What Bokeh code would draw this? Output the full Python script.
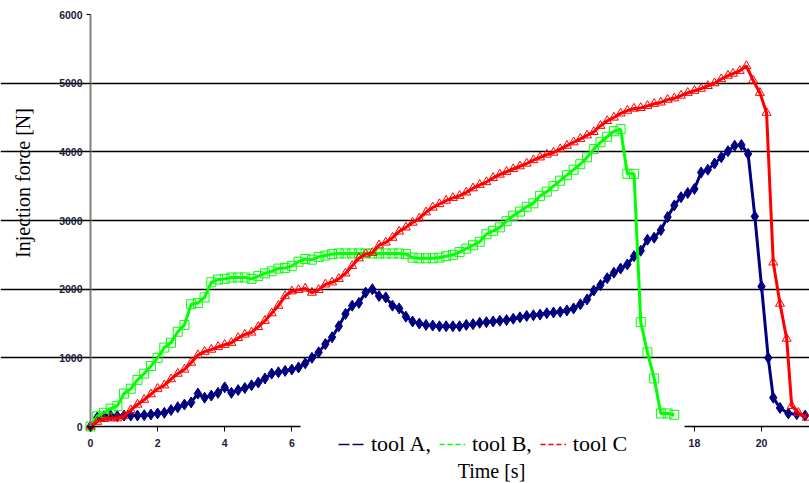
import math
from bokeh.plotting import figure
from bokeh.models import FixedTicker, Legend, LegendItem, ColumnDataSource, Label, BoxAnnotation
from bokeh.embed import file_html
from bokeh.resources import INLINE

# ---- data ----
time_a = [0.0, 0.2, 0.4, 0.6, 0.8, 1.0, 1.2, 1.4, 1.6, 1.8, 2.0, 2.2, 2.4, 2.6, 2.8, 3.0,
          3.2, 3.4, 3.6, 3.8, 4.0, 4.2, 4.4, 4.6, 4.8, 5.0, 5.2, 5.4, 5.6, 5.8, 6.0, 6.2,
          6.4, 6.6, 6.8, 7.0, 7.2, 7.4, 7.6, 7.8, 8.0, 8.2, 8.4, 8.6, 8.8, 9.0, 9.2, 9.4,
          9.6, 9.8, 10.0, 10.2, 10.4, 10.6, 10.8, 11.0, 11.2, 11.4, 11.6, 11.8, 12.0, 12.2,
          12.4, 12.6, 12.8, 13.0, 13.2, 13.4, 13.6, 13.8, 14.0, 14.2, 14.4, 14.6, 14.8, 15.0,
          15.2, 15.4, 15.6, 15.8, 16.0, 16.2, 16.4, 16.6, 16.8, 17.0, 17.2, 17.4, 17.6, 17.8,
          18.0, 18.2, 18.4, 18.6, 18.8, 19.0, 19.2, 19.4, 19.6, 19.8, 20.0, 20.2, 20.35, 20.55,
          20.8, 21.05, 21.3]
force_a = [0, 130, 150, 160, 150, 160, 160, 160, 165, 175, 190, 200, 240, 280, 320, 350,
           480, 420, 450, 490, 570, 490, 530, 560, 600, 640, 700, 770, 790, 810, 830, 860,
           920, 1000, 1080, 1200, 1300, 1460, 1640, 1760, 1800, 1950, 2000, 1900, 1880, 1760, 1720, 1600,
           1530, 1500, 1480, 1470, 1460, 1460, 1460, 1460, 1480, 1490, 1510, 1520, 1530, 1540,
           1550, 1570, 1590, 1610, 1620, 1630, 1650, 1660, 1670, 1690, 1720, 1780, 1850, 1980,
           2060, 2160, 2240, 2300, 2360, 2480, 2560, 2720, 2750, 2860, 3050, 3220, 3340, 3400,
           3460, 3700, 3740, 3830, 3920, 4010, 4090, 4100, 3970, 3060, 2040, 1000, 420, 270,
           190, 180, 160]

time_b = [0.0, 0.2, 0.4, 0.6, 0.8, 1.0, 1.2, 1.4, 1.6, 1.8, 2.0, 2.2, 2.4, 2.6, 2.8, 3.0,
          3.2, 3.4, 3.6, 3.8, 4.0, 4.2, 4.4, 4.6, 4.8, 5.0, 5.2, 5.4, 5.6, 5.8, 6.0, 6.2,
          6.4, 6.6, 6.8, 7.0, 7.2, 7.4, 7.6, 7.8, 8.0, 8.2, 8.4, 8.6, 8.8, 9.0, 9.2, 9.4,
          9.6, 9.8, 10.0, 10.2, 10.4, 10.6, 10.8, 11.0, 11.2, 11.4, 11.6, 11.8, 12.0, 12.2,
          12.4, 12.6, 12.8, 13.0, 13.2, 13.4, 13.6, 13.8, 14.0, 14.2, 14.4, 14.6, 14.8, 15.0,
          15.2, 15.4, 15.6, 15.8, 16.0, 16.2, 16.4, 16.6, 16.8, 17.0, 17.2, 17.4]
force_b = [0, 150, 200, 260, 300, 480, 550, 680, 770, 880, 1000, 1150, 1220, 1380, 1480, 1780,
           1800, 1880, 2100, 2140, 2150, 2170, 2170, 2170, 2150, 2190, 2230, 2260, 2300, 2310, 2340, 2400,
           2440, 2430, 2470, 2490, 2510, 2520, 2520, 2520, 2520, 2520, 2520, 2520, 2520, 2520, 2520, 2510,
           2460, 2450, 2450, 2450, 2460, 2480, 2500, 2540, 2590, 2640, 2690, 2800, 2850, 2900,
           2990, 3070, 3130, 3200, 3250, 3360, 3420, 3500, 3580, 3660, 3740, 3820, 3920, 4040,
           4140, 4220, 4300, 4330, 3680, 3680, 1520, 1080, 700, 190, 190, 170]

time_c = [0.0, 0.2, 0.4, 0.6, 0.8, 1.0, 1.2, 1.4, 1.6, 1.8, 2.0, 2.2, 2.4, 2.6, 2.8, 3.0,
          3.2, 3.4, 3.6, 3.8, 4.0, 4.2, 4.4, 4.6, 4.8, 5.0, 5.2, 5.4, 5.6, 5.8, 6.0, 6.2,
          6.4, 6.6, 6.8, 7.0, 7.2, 7.4, 7.6, 7.8, 8.0, 8.2, 8.4, 8.6, 8.8, 9.0, 9.2, 9.4,
          9.6, 9.8, 10.0, 10.2, 10.4, 10.6, 10.8, 11.0, 11.2, 11.4, 11.6, 11.8, 12.0, 12.2,
          12.4, 12.6, 12.8, 13.0, 13.2, 13.4, 13.6, 13.8, 14.0, 14.2, 14.4, 14.6, 14.8, 15.0,
          15.2, 15.4, 15.6, 15.8, 16.0, 16.2, 16.4, 16.6, 16.8, 17.0, 17.2, 17.4, 17.6, 17.8,
          18.0, 18.2, 18.4, 18.6, 18.8, 19.0, 19.15, 19.35, 19.55, 19.75, 19.95, 20.15, 20.35, 20.55,
          20.75, 20.9, 21.1, 21.35]
force_c = [0, 70, 110, 120, 120, 150, 240, 320, 390, 470, 550, 600, 690, 770, 830, 930,
           1040, 1090, 1120, 1160, 1190, 1220, 1290, 1340, 1370, 1450, 1540, 1650, 1760, 1900, 1970, 1990,
           2010, 1950, 1990, 2070, 2100, 2150, 2230, 2340, 2450, 2510, 2530, 2640, 2680, 2750, 2840, 2900,
           2970, 3030, 3120, 3190, 3240, 3290, 3330, 3360, 3410, 3470, 3520, 3560, 3620, 3670,
           3710, 3750, 3790, 3830, 3880, 3920, 3960, 3990, 4040, 4090, 4140, 4190, 4240, 4290,
           4380, 4450, 4500, 4560, 4600, 4630, 4640, 4670, 4700, 4720, 4760, 4780, 4820, 4860,
           4890, 4920, 4960, 5000, 5060, 5110, 5140, 5180, 5250, 5040, 4860, 4570, 2390, 1790,
           1280, 300, 200, 130]

series_labels = ["tool A,", "tool B,", "tool C"]
x_title = "Time [s]"
y_title = "Injection force  [N]"
x_ticks = [0, 2, 4, 6, 8, 10, 12, 14, 16, 18, 20]
y_ticks = [0, 1000, 2000, 3000, 4000, 5000, 6000]
grid_ticks = [1000, 2000, 3000, 4000, 5000]
x_max, y_max = 21.43, 6000

# ---- figure: frame covers the whole canvas, axes pinned at x=0 / y=0 ----
W, H = 809, 483
p = figure(width=W, height=H, x_range=(-2.683, x_max), y_range=(-830, 6204),
           output_backend="svg", toolbar_location=None,
           min_border_left=0, min_border_right=0, min_border_top=0, min_border_bottom=0)
p.outline_line_color = None
p.background_fill_color = "white"
p.border_fill_color = "white"

NAVY, GREEN, RED = "#000080", "#00ff00", "#ff0000"

src_a = ColumnDataSource(dict(x=time_a, y=force_a))
src_b = ColumnDataSource(dict(x=time_b, y=force_b))
src_c = ColumnDataSource(dict(x=time_c, y=force_c))

p.line("x", "y", source=src_a, line_color=NAVY, line_width=3)
p.scatter("x", "y", source=src_a, marker="diamond", size=11, fill_color=NAVY, line_color=NAVY)
p.line("x", "y", source=src_b, line_color=GREEN, line_width=3)
p.scatter("x", "y", source=src_b, marker="square", size=9, fill_color=None, line_color=GREEN, line_width=1)
p.line("x", "y", source=src_c, line_color=RED, line_width=3)
p.scatter("x", "y", source=src_c, marker="triangle", size=9, fill_color=None, line_color=RED, line_width=1)

# legend-only renderers (a single undefined point: nothing drawn in the plot)
nan = float("nan")
la = p.line(x=[nan], y=[nan], line_color=NAVY, line_width=1.5, line_dash="11 3")
lb = p.line(x=[nan], y=[nan], line_color=GREEN, line_width=1.5, line_dash="5 3")
lc = p.line(x=[nan], y=[nan], line_color=RED, line_width=1.5, line_dash="5 3")

# white legend panel (hides the axis under the legend, as in the original)
LEG_LEFT, LEG_RIGHT, LEG_TOP, LEG_BOTTOM = 300, 684, 424, 458
p.add_layout(BoxAnnotation(left=LEG_LEFT, right=LEG_RIGHT, top=H - LEG_TOP, bottom=H - LEG_BOTTOM,
                           left_units="screen", right_units="screen",
                           top_units="screen", bottom_units="screen",
                           fill_color="white", fill_alpha=1.0, line_color=None))

legend = Legend(items=[LegendItem(label=series_labels[0], renderers=[la]),
                       LegendItem(label=series_labels[1], renderers=[lb]),
                       LegendItem(label=series_labels[2], renderers=[lc])],
                orientation="horizontal", location=(338, 26),
                glyph_width=26, label_standoff=7, spacing=8, padding=5, margin=0,
                label_text_font="Liberation Serif", label_text_font_size="22px",
                label_text_color="black", background_fill_color="white",
                background_fill_alpha=1.0, border_line_color=None)
p.add_layout(legend)

# axis titles
p.add_layout(Label(x=22, y=H - 180, x_units="screen", y_units="screen", text=y_title,
                   angle=math.pi / 2, text_align="center", text_baseline="middle",
                   text_font="Liberation Serif", text_font_size="20px", text_color="black"))
p.add_layout(Label(x=491, y=H - 470, x_units="screen", y_units="screen", text=x_title,
                   text_align="center", text_baseline="middle",
                   text_font="Liberation Serif", text_font_size="20px", text_color="black"))

# ---- axes ----
tick_font = "Liberation Sans"
xa = p.xaxis[0]
xa.fixed_location = 0
xa.bounds = (0, x_max)
xa.ticker = FixedTicker(ticks=x_ticks)
xa.major_label_text_font = tick_font
xa.major_label_text_font_size = "10.5px"
xa.major_label_text_font_style = "bold"
xa.major_label_text_color = "#20203c"
xa.major_label_standoff = 7
xa.major_tick_out = 5
xa.major_tick_in = 0
xa.minor_tick_out = 0
xa.minor_tick_in = 0
xa.axis_line_color = "black"
xa.axis_line_width = 1.5
xa.major_tick_line_color = "black"

ya = p.yaxis[0]
ya.fixed_location = 0
ya.bounds = (0, y_max)
ya.ticker = FixedTicker(ticks=y_ticks)
ya.major_label_text_font = tick_font
ya.major_label_text_font_size = "10.5px"
ya.major_label_text_font_style = "bold"
ya.major_label_text_color = "#20203c"
ya.major_label_standoff = 4
ya.major_tick_out = 4
ya.major_tick_in = 0
ya.minor_tick_out = 0
ya.minor_tick_in = 0
ya.axis_line_color = "#808080"
ya.axis_line_width = 2
ya.major_tick_line_color = "black"

p.xgrid.grid_line_color = None
p.ygrid.ticker = FixedTicker(ticks=grid_ticks)
p.ygrid.bounds = (0, x_max)
p.ygrid.grid_line_color = "black"
p.ygrid.grid_line_width = 1.5

open("out.html", "w").write(file_html(p, INLINE))
